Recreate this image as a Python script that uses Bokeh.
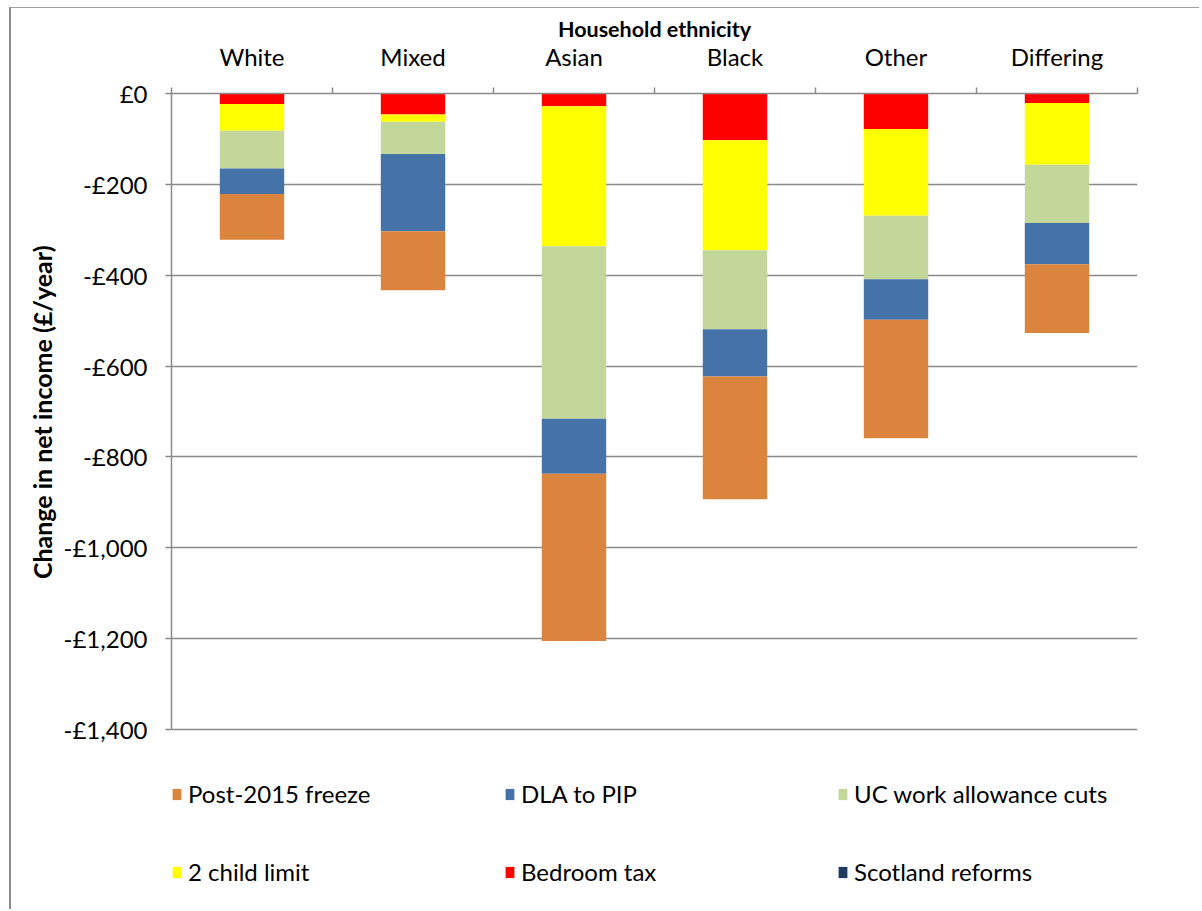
from bokeh.plotting import figure
from bokeh.models import (Range1d, LinearAxis, FixedTicker, Legend, LegendItem,
                          ColumnDataSource, Title)
from bokeh.embed import file_html
from bokeh.resources import INLINE

categories = ["White", "Mixed", "Asian", "Black", "Other", "Differing"]
bedroom_tax = [-23, -46, -28, -103, -78, -21]
two_child_limit = [-59, -16, -308, -242, -191, -136]
uc_work_allowance_cuts = [-83, -71, -380, -174, -140, -128]
dla_to_pip = [-56, -170, -121, -104, -89, -91]
post_2015_freeze = [-101, -130, -368, -270, -261, -151]
scotland_reforms = [0, 0, 0, 0, 0, 0]

y_ticks = [0, -200, -400, -600, -800, -1000, -1200, -1400]
y_tick_labels = ["£0", "-£200", "-£400", "-£600", "-£800", "-£1,000", "-£1,200", "-£1,400"]

FONT = "Lato"
GRID = "#8a8a8a"

n = len(categories)
x_pos = list(range(n))
bounds = [i - 0.5 for i in range(n + 1)]

# layout (pixels)
AXIS_H = 636          # height of the value axis (0 .. -1400)
FRAME_H = 803         # frame extends below the axis to hold the legend
y_min, y_max = min(y_ticks), max(y_ticks)
y_start = y_max - (y_max - y_min) * FRAME_H / AXIS_H

p = figure(x_range=Range1d(-0.5, n - 0.5), y_range=Range1d(y_start, y_max),
           width=1190, height=902, output_backend="svg", toolbar_location=None,
           x_axis_location=None, min_border_left=160, min_border_right=64,
           min_border_top=85, min_border_bottom=14, outline_line_color=None)
p.styles = {"margin-left": "9px", "margin-top": "7px",
            "border-left": "2px solid #8a8a8a", "border-top": "1px solid #a0a0a0"}

src = ColumnDataSource(dict(x=x_pos, bedroom=bedroom_tax, two_child=two_child_limit,
                            uc=uc_work_allowance_cuts, dla=dla_to_pip,
                            freeze=post_2015_freeze, scotland=scotland_reforms))
stackers = ["bedroom", "two_child", "uc", "dla", "freeze", "scotland"]
colors = ["#FF0000", "#FFFF00", "#C4D79B", "#4573A7", "#DB843D", "#1F3A60"]
rs = p.vbar_stack(stackers, x="x", width=0.4, fill_color=colors, line_color=None, source=src)
r = dict(zip(stackers, rs))

# top axis: category labels at centres, tick marks at category boundaries
cat_axis = LinearAxis(ticker=FixedTicker(ticks=x_pos, minor_ticks=bounds),
                      major_label_overrides=dict(zip(x_pos, categories)),
                      axis_line_color=GRID, axis_line_width=1.5,
                      major_tick_line_color=None, major_tick_out=6, major_tick_in=0,
                      minor_tick_line_color=GRID, minor_tick_line_width=1.5,
                      minor_tick_out=6, minor_tick_in=0,
                      major_label_text_font=FONT, major_label_text_font_size="24px",
                      major_label_text_color="black", major_label_standoff=17,
                      axis_label="Household ethnicity", axis_label_text_font=FONT,
                      axis_label_text_font_style="bold", axis_label_text_font_size="21.5px",
                      axis_label_text_color="black", axis_label_standoff=-3)
p.add_layout(cat_axis, "above")

ya = p.yaxis[0]
ya.bounds = (y_min, y_max)
ya.ticker = FixedTicker(ticks=y_ticks)
ya.major_label_overrides = dict(zip(y_ticks, y_tick_labels))
ya.major_tick_out = 6
ya.major_tick_in = 0
ya.minor_tick_line_color = None
ya.axis_line_color = GRID
ya.axis_line_width = 1.5
ya.major_tick_line_color = GRID
ya.major_tick_line_width = 1.5
ya.major_label_text_font = FONT
ya.major_label_text_font_size = "24px"
ya.major_label_text_color = "black"
ya.major_label_standoff = 18

# value-axis title, anchored to the top of the value axis
p.add_layout(Title(text="Change in net income (£/year)", align="right", offset=152,
                   text_font=FONT, text_font_style="bold", text_font_size="25px",
                   text_color="black", standoff=8), "left")

p.xgrid.visible = False
p.ygrid.ticker = FixedTicker(ticks=y_ticks)
p.ygrid.grid_line_color = GRID
p.ygrid.grid_line_width = 1.5


def make_legend(items, loc):
    return Legend(items=[LegendItem(label=lab, renderers=[r[k]]) for lab, k in items],
                  location=loc, orientation="horizontal", padding=0, margin=0,
                  spacing=0, glyph_width=11, glyph_height=14, label_height=14,
                  label_width=316, label_standoff=6, border_line_color=None,
                  background_fill_alpha=0, label_text_font=FONT,
                  label_text_font_size="24px", label_text_color="black")


leg1 = make_legend([("Post-2015 freeze", "freeze"), ("DLA to PIP", "dla"),
                    ("UC work allowance cuts", "uc")], (0, 88))
leg2 = make_legend([("2 child limit", "two_child"), ("Bedroom tax", "bedroom"),
                    ("Scotland reforms", "scotland")], (0, 10))
p.add_layout(leg1)
p.add_layout(leg2)

open("out.html", "w").write(file_html(p, INLINE))
